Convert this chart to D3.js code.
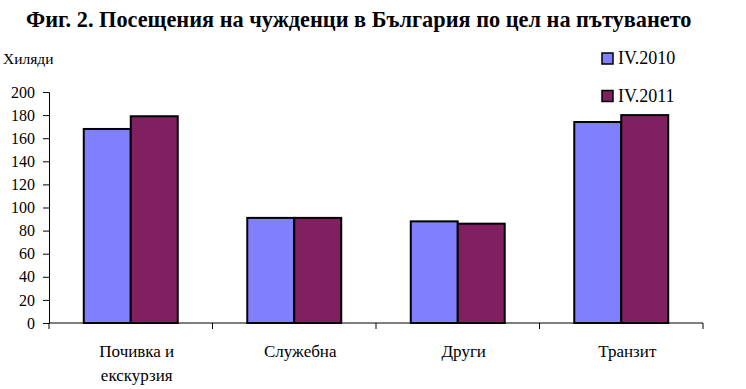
<!DOCTYPE html>
<html>
<head>
<meta charset="utf-8">
<script src="https://cdn.jsdelivr.net/npm/d3@7"></script>
</head>
<body style="margin:0; background:#fff">
<div id="viz"></div>
<script>
var categories = [["Почивка и", "екскурзия"], ["Служебна"], ["Други"], ["Транзит"]]
var series = ["IV.2010", "IV.2011"]
var values2010 = [168, 91, 88, 174]
var values2011 = [179, 91, 86, 180]
var yTicks = [0, 20, 40, 60, 80, 100, 120, 140, 160, 180, 200]
var colors = ["#8080ff", "#802060"]

var FONT = "serif"
var width = 746, height = 389
var margin = { top: 92, right: 43, bottom: 66, left: 49 }

var svg = d3.select("#viz").append("svg")
  .attr("width", width)
  .attr("height", height)
  .attr("font-family", FONT)

// title
svg.append("text")
  .attr("x", 26).attr("y", 27)
  .attr("font-family", FONT)
  .attr("font-size", 22.3).attr("font-weight", "bold")
  .text("Фиг. 2. Посещения на чужденци в България по цел на пътуването")

svg.append("text")
  .attr("x", 3).attr("y", 64)
  .attr("font-family", FONT)
  .attr("font-size", 15.5)
  .text("Хиляди")

var x = d3.scaleBand()
  .domain(d3.range(categories.length))
  .range([margin.left, width - margin.right])
  .paddingInner(0).paddingOuter(0)

var x1 = d3.scaleBand()
  .domain(series)
  .range([0, x.bandwidth()])
  .paddingInner(0).paddingOuter(0.74)

var y = d3.scaleLinear()
  .domain([0, 200])
  .range([height - margin.bottom, margin.top])

var rows = categories.map((c, i) => ({ i: i, vals: [values2010[i], values2011[i]] }))

// bars
var groups = svg.selectAll("g.grp")
  .data(rows)
  .enter().append("g")
  .attr("class", "grp")
  .attr("transform", d => "translate(" + x(d.i) + ",0)")

groups.selectAll("rect")
  .data(d => d.vals.map((v, k) => ({ s: series[k], v: v, k: k })))
  .enter().append("rect")
  .attr("x", d => x1(d.s))
  .attr("y", d => y(d.v))
  .attr("width", x1.bandwidth())
  .attr("height", d => y(0) - y(d.v))
  .attr("fill", d => colors[d.k])
  .attr("stroke", "#000")
  .attr("stroke-width", 2)

// y axis
var yAxis = svg.append("g")
  .attr("transform", "translate(" + margin.left + ",0)")
  .call(d3.axisLeft(y).tickValues(yTicks).tickSize(6).tickPadding(8))
yAxis.attr("font-family", FONT).attr("font-size", 16)
yAxis.select(".domain").attr("stroke", "#000")
yAxis.selectAll("text").attr("fill", "#000").attr("font-family", FONT)

// x axis line with boundary ticks
var x0 = margin.left, x2 = width - margin.right
svg.append("line")
  .attr("x1", x0).attr("x2", x2)
  .attr("y1", y(0)).attr("y2", y(0))
  .attr("stroke", "#000")
svg.selectAll("line.xt")
  .data(d3.range(categories.length + 1))
  .enter().append("line")
  .attr("class", "xt")
  .attr("x1", d => x0 + d * x.bandwidth()).attr("x2", d => x0 + d * x.bandwidth())
  .attr("y1", y(0)).attr("y2", y(0) + 6)
  .attr("stroke", "#000")

// category labels
var lab = svg.selectAll("text.cat")
  .data(rows)
  .enter().append("text")
  .attr("class", "cat")
  .attr("text-anchor", "middle")
  .attr("font-family", FONT)
  .attr("font-size", 17)
lab.selectAll("tspan")
  .data(d => categories[d.i].map(t => ({ t: t, i: d.i })))
  .enter().append("tspan")
  .attr("x", d => x(d.i) + x.bandwidth() / 2 + 6)
  .attr("y", (d, k) => 357 + k * 23.5)
  .text(d => d.t)

// legend
var leg = svg.selectAll("g.leg")
  .data(series)
  .enter().append("g")
  .attr("class", "leg")
  .attr("transform", (d, k) => "translate(602," + (53 + k * 37.5) + ")")
leg.append("rect")
  .attr("width", 11).attr("height", 11)
  .attr("fill", (d, k) => colors[k])
  .attr("stroke", "#000").attr("stroke-width", 1.5)
leg.append("text")
  .attr("x", 16).attr("y", 11)
  .attr("font-family", FONT)
  .attr("font-size", 18)
  .text(d => d)
</script>
</body>
</html>
